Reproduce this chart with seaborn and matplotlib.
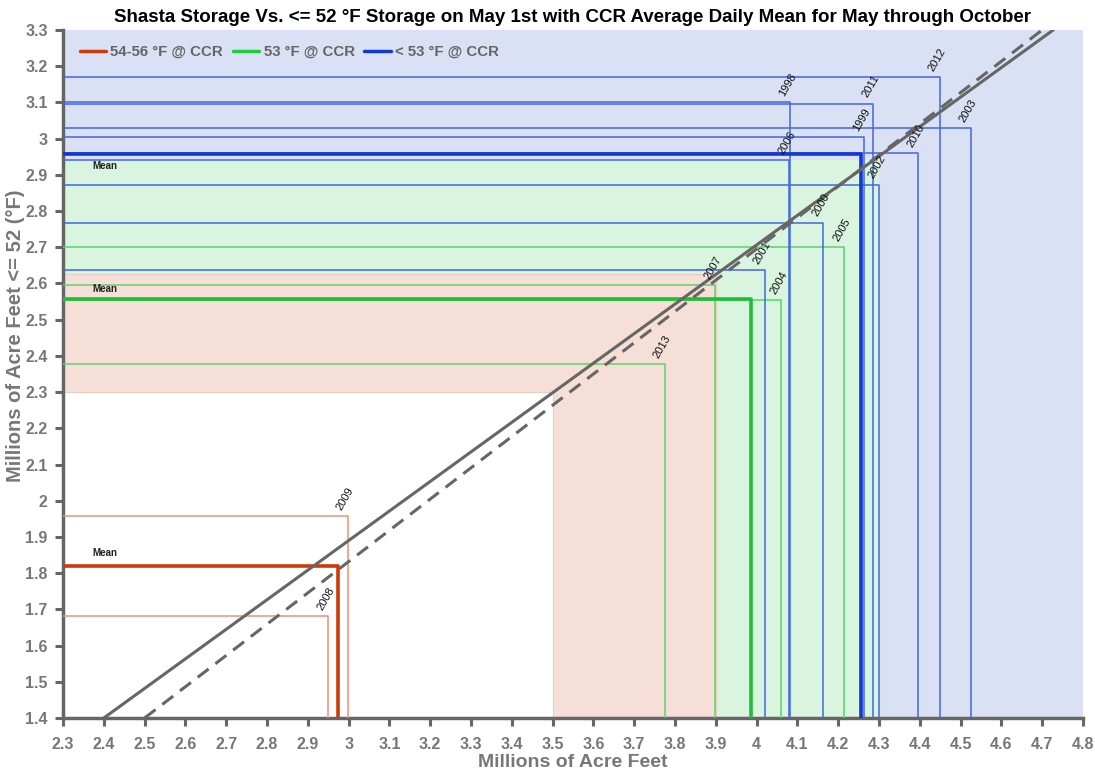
import matplotlib
matplotlib.use("Agg")
import matplotlib.pyplot as plt
import seaborn as sns
import pandas as pd
import numpy as np
from matplotlib.ticker import MultipleLocator, FuncFormatter
from matplotlib.lines import Line2D

# ---------------- data ----------------
red_years = [2008, 2009]
red_x = [2.950, 2.998]
red_y = [1.682, 1.958]

green_years = [2004, 2005, 2007, 2013]
green_x = [4.060, 4.215, 3.899, 3.775]
green_y = [2.554, 2.700, 2.595, 2.377]

blue_years = [1998, 1999, 2000, 2001, 2002, 2003, 2006, 2010, 2011, 2012]
blue_x = [4.082, 4.264, 4.163, 4.020, 4.300, 4.525, 4.080, 4.396, 4.285, 4.449]
blue_y = [3.100, 3.005, 2.768, 2.637, 2.873, 3.030, 2.940, 2.960, 3.097, 3.169]

# category boundaries (x threshold, y threshold)
region_x = [3.5, 3.9, 4.3]
region_y = [2.3, 2.625, 2.94]

# diagonal reference lines (x, y endpoints)
solid_x = [2.4, 4.727]
solid_y = [1.4, 3.3]
dash_x = [2.5, 4.70]
dash_y = [1.4, 3.3]

legend_labels = ["54-56 °F @ CCR", "53 °F @ CCR", "< 53 °F @ CCR"]
title = "Shasta Storage Vs. <= 52 °F Storage on May 1st with CCR Average Daily Mean for May through October"

XMIN, XMAX, YMIN, YMAX = 2.3, 4.8, 1.4, 3.3

# ---------------- style ----------------
sns.set_theme(style="ticks")
plt.rcParams["font.family"] = ["Liberation Sans", "DejaVu Sans"]

fig = plt.figure(figsize=(10.95, 7.74), dpi=100)
ax = fig.add_axes([63 / 1095, 1 - 718 / 774, 1020 / 1095, 688 / 774])
ax.set_facecolor("white")

# ---------------- background regions ----------------
blue_bg, green_bg, pink_bg = "#dbe1f5", "#daf5df", "#f6dfd6"
ax.fill_between([XMIN, XMAX], YMIN, YMAX, color=blue_bg, lw=0, zorder=0)
ax.fill_between([XMIN, region_x[2]], YMIN, region_y[2], color=green_bg, lw=0, zorder=0)
ax.fill_between([XMIN, region_x[1]], YMIN, region_y[1], color=pink_bg, lw=0, zorder=0)
ax.fill_between([XMIN, region_x[0]], YMIN, region_y[0], color="white", lw=0, zorder=0)
# faint outline of pink region
ax.plot([XMIN, region_x[1], region_x[1]], [region_y[1], region_y[1], YMIN],
        color="#e8cdc2", lw=0.8, zorder=0.5)
ax.plot([XMIN, region_x[0], region_x[0]], [region_y[0], region_y[0], YMIN],
        color="#e8cdc2", lw=0.8, zorder=0.5)


def paths(years, xs, ys):
    rows = []
    for yr, x, y in zip(years, xs, ys):
        rows += [dict(year=yr, o=0, x=XMIN, y=y),
                 dict(year=yr, o=1, x=x, y=y),
                 dict(year=yr, o=2, x=x, y=YMIN)]
    return pd.DataFrame(rows)


series = [
    (red_years, red_x, red_y, "#ef9273", "#cc3a0a", 1.855),
    (green_years, green_x, green_y, "#5cd36c", "#1fbf35", 2.585),
    (blue_years, blue_x, blue_y, "#4266e0", "#1238d0", 2.925),
]

for yrs, xs, ys, c_thin, c_mean, mean_lab_y in series:
    df = paths(yrs, xs, ys)
    sns.lineplot(data=df, x="x", y="y", units="year", estimator=None, sort=False,
                 color=c_thin, lw=1.1, ax=ax, legend=False, zorder=3)
    mx, my = float(np.mean(xs)), float(np.mean(ys))
    dm = paths(["mean"], [mx], [my])
    sns.lineplot(data=dm, x="x", y="y", units="year", estimator=None, sort=False,
                 color=c_mean, lw=2.6, ax=ax, legend=False, zorder=4,
                 solid_joinstyle="round")
    for yr, x, y in zip(yrs, xs, ys):
        ax.annotate(str(yr), (x, y), xytext=(-3, 3), textcoords="offset points",
                    rotation=60, rotation_mode="anchor", ha="left", va="bottom",
                    fontsize=8, color="#111111", zorder=6)
    ax.text(2.372, mean_lab_y, "Mean", fontsize=7, fontweight="bold",
            color="#222222", ha="left", va="center", zorder=6)

# diagonal lines
sns.lineplot(x=solid_x, y=solid_y, color="#666666", lw=2.2, ax=ax, zorder=5)
l = sns.lineplot(x=dash_x, y=dash_y, color="#666666", lw=2.2, ax=ax, zorder=5).lines[-1]
l.set_dashes((4.5, 2.8))

# ---------------- axes ----------------
ax.set_xlim(XMIN, XMAX)
ax.set_ylim(YMIN, YMAX)
ax.xaxis.set_major_locator(MultipleLocator(0.1))
ax.yaxis.set_major_locator(MultipleLocator(0.1))
fmt = FuncFormatter(lambda v, p: f"{round(v, 2):g}")
ax.xaxis.set_major_formatter(fmt)
ax.yaxis.set_major_formatter(fmt)
ax.tick_params(direction="out", length=6, width=2.2, colors="#666666",
               labelcolor="#777777", labelsize=11.5)
ax.tick_params(axis="x", pad=8)
ax.tick_params(axis="y", pad=5)
for lab in ax.get_xticklabels() + ax.get_yticklabels():
    lab.set_fontweight("bold")
sns.despine(ax=ax)
for s in ("left", "bottom"):
    ax.spines[s].set_color("#666666")
    ax.spines[s].set_linewidth(2.5)
ax.grid(False)

ax.set_xlabel("Millions of Acre Feet", fontsize=14, fontweight="bold", color="#777777")
ax.xaxis.set_label_coords(0.5, -0.053)
ax.set_ylabel("Millions of Acre Feet <= 52 (°F)", fontsize=14.5, fontweight="bold", color="#777777")
ax.yaxis.set_label_coords(-0.037, 0.555)
ax.set_title(title, fontsize=13.5, fontweight="bold", color="black", pad=6)

handles = [Line2D([], [], color=c, lw=2.5) for c in ("#cc3a0a", "#1fcc3a", "#1238d0")]
ax.legend(handles, legend_labels, loc="upper left", bbox_to_anchor=(0.003, 0.998), ncol=3,
          frameon=False, prop=dict(weight="bold", size=10.8), labelcolor="#666666",
          handlelength=1.75, handletextpad=0.3, columnspacing=0.65)

fig.savefig("out.png", dpi=100)
